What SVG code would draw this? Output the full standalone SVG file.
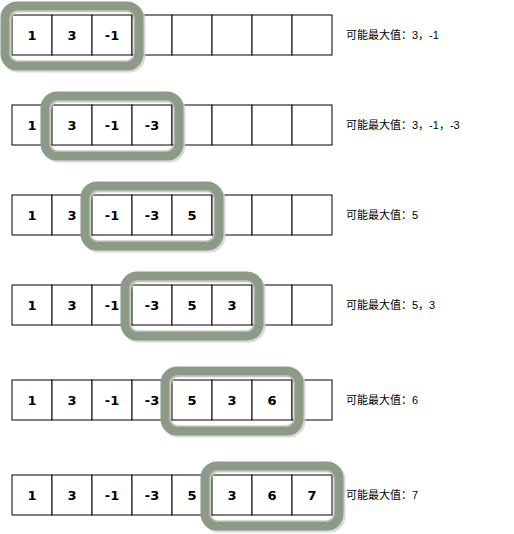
<svg xmlns="http://www.w3.org/2000/svg" width="514" height="534" viewBox="0 0 514 534">
<style>
.c{fill:#fff;stroke:#000;stroke-width:1}
.n{font-family:"DejaVu Sans",Verdana,sans-serif;font-weight:bold;font-size:13px;text-anchor:middle;dominant-baseline:central;fill:#000}
.l{font-family:"Liberation Sans","Noto Sans CJK SC",sans-serif;font-size:11px;dominant-baseline:central;fill:#000}
.sh{fill:none;stroke:#d0d0d0;stroke-width:9;opacity:0.8}
.w{fill:none;stroke:#8c9a87;stroke-width:9}
.wi{fill:none;stroke:#b3bdaf;stroke-width:1.5}
</style>
<defs>
<g id="cells">
<rect class="c" x="12" y="0" width="40" height="40"/>
<rect class="c" x="52" y="0" width="40" height="40"/>
<rect class="c" x="92" y="0" width="40" height="40"/>
<rect class="c" x="132" y="0" width="40" height="40"/>
<rect class="c" x="172" y="0" width="40" height="40"/>
<rect class="c" x="212" y="0" width="40" height="40"/>
<rect class="c" x="252" y="0" width="40" height="40"/>
<rect class="c" x="292" y="0" width="40" height="40"/>
</g>
<g id="win">
<rect class="sh" x="2" y="2" width="134" height="60" rx="12"/>
<rect class="w" x="0" y="0" width="134" height="60" rx="12"/>
<rect class="wi" x="4.8" y="4.8" width="124.4" height="50.4" rx="8"/>
</g>
</defs>
<g id="row1" transform="translate(0,15)">
<use href="#cells"/>
<text class="n" x="32" y="20">1</text><text class="n" x="72" y="20">3</text><text class="n" x="112" y="20">-1</text>
<use href="#win" x="5" y="-9"/>
<text class="l" x="346" y="20">可能最大值：3，-1</text>
</g>
<g id="row2" transform="translate(0,105)">
<use href="#cells"/>
<text class="n" x="32" y="20">1</text><text class="n" x="72" y="20">3</text><text class="n" x="112" y="20">-1</text><text class="n" x="152" y="20">-3</text>
<use href="#win" x="45" y="-9"/>
<text class="l" x="346" y="20">可能最大值：3，-1，-3</text>
</g>
<g id="row3" transform="translate(0,195)">
<use href="#cells"/>
<text class="n" x="32" y="20">1</text><text class="n" x="72" y="20">3</text><text class="n" x="112" y="20">-1</text><text class="n" x="152" y="20">-3</text><text class="n" x="192" y="20">5</text>
<use href="#win" x="85" y="-9"/>
<text class="l" x="346" y="20">可能最大值：5</text>
</g>
<g id="row4" transform="translate(0,285)">
<use href="#cells"/>
<text class="n" x="32" y="20">1</text><text class="n" x="72" y="20">3</text><text class="n" x="112" y="20">-1</text><text class="n" x="152" y="20">-3</text><text class="n" x="192" y="20">5</text><text class="n" x="232" y="20">3</text>
<use href="#win" x="125" y="-9"/>
<text class="l" x="346" y="20">可能最大值：5，3</text>
</g>
<g id="row5" transform="translate(0,380)">
<use href="#cells"/>
<text class="n" x="32" y="20">1</text><text class="n" x="72" y="20">3</text><text class="n" x="112" y="20">-1</text><text class="n" x="152" y="20">-3</text><text class="n" x="192" y="20">5</text><text class="n" x="232" y="20">3</text><text class="n" x="272" y="20">6</text>
<use href="#win" x="165" y="-9"/>
<text class="l" x="346" y="20">可能最大值：6</text>
</g>
<g id="row6" transform="translate(0,475)">
<use href="#cells"/>
<text class="n" x="32" y="20">1</text><text class="n" x="72" y="20">3</text><text class="n" x="112" y="20">-1</text><text class="n" x="152" y="20">-3</text><text class="n" x="192" y="20">5</text><text class="n" x="232" y="20">3</text><text class="n" x="272" y="20">6</text><text class="n" x="312" y="20">7</text>
<use href="#win" x="205" y="-9"/>
<text class="l" x="346" y="20">可能最大值：7</text>
</g>
</svg>
